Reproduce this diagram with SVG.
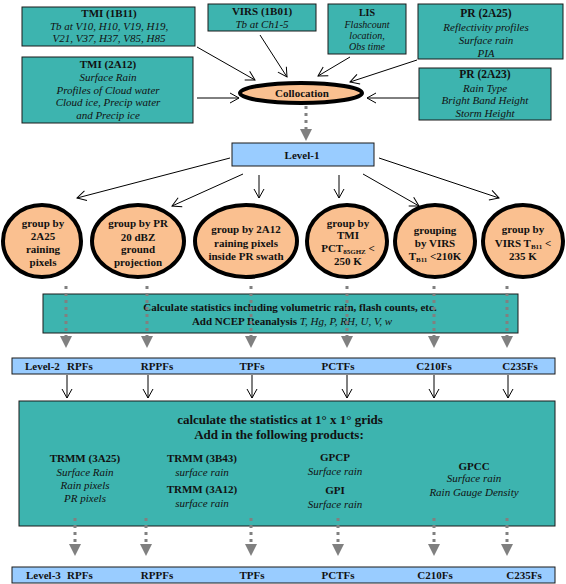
<svg xmlns="http://www.w3.org/2000/svg" width="566" height="584" viewBox="0 0 566 584" font-family="'Liberation Serif', 'DejaVu Serif', serif">
<defs>
<marker id="open" markerUnits="userSpaceOnUse" markerWidth="12" markerHeight="12" viewBox="0 0 12 12" refX="10" refY="6" orient="auto">
<path d="M1,1 L10,6 L1,11" fill="none" stroke="#000" stroke-width="1"/>
</marker>
<marker id="gray" markerUnits="userSpaceOnUse" markerWidth="12" markerHeight="13" viewBox="0 0 12 13" refX="0" refY="6.5" orient="auto">
<path d="M0,0.5 L12,6.5 L0,12.5 Z" fill="#808080"/>
</marker>
</defs>
<style>
text{font-family:'Liberation Serif','Times New Roman','DejaVu Serif',serif;font-size:11px;fill:#111;text-anchor:middle}
.b{font-weight:bold}
.i{font-style:italic}
.big{font-size:13px;font-weight:bold}
.teal{fill:#3DB4AF;stroke:#1a1a1a;stroke-width:1}
.blue{fill:#99CCFF;stroke:#1a1a1a;stroke-width:1}
.oval{fill:#FAC090;stroke:#000;stroke-width:4}
.ln{stroke:#000;stroke-width:1;fill:none;marker-end:url(#open)}
.dot{stroke:#808080;stroke-width:3;stroke-dasharray:3 4;fill:none;marker-end:url(#gray)}
.sub{font-size:7px}
.st{text-anchor:start}
</style>
<rect width="566" height="584" fill="#fff"/>

<g id="tmi1b11">
<rect class="teal" x="22" y="7" width="173" height="39"/>
<text class="b" x="109" y="17">TMI (1B11)</text>
<text class="i" x="109" y="30">Tb at V10, H10, V19, H19,</text>
<text class="i" x="109" y="42">V21, V37, H37, V85, H85</text>
</g>
<g id="tmi2a12">
<rect class="teal" x="22" y="57" width="171" height="66"/>
<text class="b" x="108" y="68">TMI (2A12)</text>
<text class="i" x="108" y="81">Surface Rain</text>
<text class="i" x="108" y="94">Profiles of Cloud water</text>
<text class="i" x="108" y="106">Cloud ice, Precip water</text>
<text class="i" x="108" y="119">and Precip ice</text>
</g>
<g id="virs1b01">
<rect class="teal" x="208" y="4" width="108" height="27"/>
<text class="b" x="262" y="15">VIRS (1B01)</text>
<text class="i" x="262" y="28">Tb at Ch1-5</text>
</g>
<g id="lis">
<rect class="teal" x="328" y="4" width="78" height="50"/>
<text class="b" x="367" y="16" style="font-size:10px">LIS</text>
<text class="i" x="367" y="27.5" style="font-size:10px">Flashcount</text>
<text class="i" x="367" y="38.5" style="font-size:10px">location,</text>
<text class="i" x="367" y="50" style="font-size:10px">Obs time</text>
</g>
<g id="pr2a25">
<rect class="teal" x="418" y="4" width="145" height="55"/>
<text class="b" x="486" y="17" style="font-size:11.5px">PR (2A25)</text>
<text class="i" x="486" y="31">Reflectivity profiles</text>
<text class="i" x="486" y="44">Surface rain</text>
<text class="i" x="486" y="57">PIA</text>
</g>
<g id="pr2a23">
<rect class="teal" x="419" y="68" width="132" height="52"/>
<text class="b" x="485" y="78" style="font-size:11.5px">PR (2A23)</text>
<text class="i" x="485" y="92">Rain Type</text>
<text class="i" x="485" y="104">Bright Band Height</text>
<text class="i" x="485" y="117">Storm Height</text>
</g>

<g id="collocation">
<ellipse class="oval" cx="301" cy="93" rx="61" ry="10"/>
<text class="b" x="302" y="97">Collocation</text>
</g>

<g id="level1">
<rect class="blue" x="232" y="143" width="142" height="23"/>
<text class="b" x="302" y="159">Level-1</text>
</g>

<g id="c1">
<ellipse class="oval" cx="42" cy="241" rx="39" ry="36"/>
<text class="b" x="43" y="227">group by</text>
<text class="b" x="43" y="240">2A25</text>
<text class="b" x="43" y="253">raining</text>
<text class="b" x="43" y="266">pixels</text>
</g>
<g id="c2">
<ellipse class="oval" cx="138" cy="241" rx="46" ry="36"/>
<text class="b" x="138" y="227">group by PR</text>
<text class="b" x="138" y="241">20 dBZ</text>
<text class="b" x="138" y="253">ground</text>
<text class="b" x="138" y="266">projection</text>
</g>
<g id="c3">
<ellipse class="oval" cx="246" cy="241" rx="51" ry="36"/>
<text class="b" x="246" y="233">group by 2A12</text>
<text class="b" x="246" y="247">raining pixels</text>
<text class="b" x="246" y="260">inside PR swath</text>
</g>
<g id="c4">
<ellipse class="oval" cx="347" cy="241" rx="40" ry="36"/>
<text class="b" x="348" y="227">group by</text>
<text class="b" x="348" y="239">TMI</text>
<text class="b" x="348" y="252">PCT<tspan class="sub" dy="2">85GHZ</tspan><tspan dy="-2"> &lt;</tspan></text>
<text class="b" x="348" y="265">250 K</text>
</g>
<g id="c5">
<ellipse class="oval" cx="435" cy="241" rx="40" ry="36"/>
<text class="b" x="435" y="234">grouping</text>
<text class="b" x="435" y="247">by VIRS</text>
<text class="b" x="435" y="260">T<tspan class="sub" dy="2">B11</tspan><tspan dy="-2"> &lt;210K</tspan></text>
</g>
<g id="c6">
<ellipse class="oval" cx="523" cy="241" rx="40" ry="36"/>
<text class="b" x="523" y="233">group by</text>
<text class="b" x="523" y="247">VIRS T<tspan class="sub" dy="2">B11</tspan><tspan dy="-2"> &lt;</tspan></text>
<text class="b" x="523" y="260">235 K</text>
</g>

<g id="stats">
<rect class="teal" x="43" y="294" width="475" height="39"/>
<text class="b" x="290" y="311">Calculate statistics including volumetric rain, flash counts, etc.</text>
<text class="b" x="292" y="325">Add NCEP Reanalysis <tspan class="i" style="font-weight:normal">T, Hg, P, RH, U, V, w</tspan></text>
</g>

<g id="level2">
<rect class="blue" x="12" y="358" width="543" height="16"/>
<text class="b st" x="25" y="370">Level-2</text>
<text class="b st" x="67" y="370">RPFs</text>
<text class="b" x="157" y="370">RPPFs</text>
<text class="b" x="252" y="370">TPFs</text>
<text class="b" x="338" y="370">PCTFs</text>
<text class="b" x="434" y="370">C210Fs</text>
<text class="b" x="520" y="370">C235Fs</text>
</g>

<g id="grids">
<rect class="teal" x="19" y="401" width="536" height="125"/>
<text class="big" x="280" y="424">calculate the statistics  at 1° x 1° grids</text>
<text class="big" x="279" y="439">Add in the following products:</text>
<text class="b" x="85" y="462">TRMM (3A25)</text>
<text class="i" x="85" y="476">Surface Rain</text>
<text class="i" x="85" y="489">Rain pixels</text>
<text class="i" x="85" y="502">PR pixels</text>
<text class="b" x="202" y="462">TRMM (3B43)</text>
<text class="i" x="202" y="476">surface rain</text>
<text class="b" x="202" y="493">TRMM (3A12)</text>
<text class="i" x="202" y="507">surface rain</text>
<text class="b" x="335" y="461">GPCP</text>
<text class="i" x="335" y="475">Surface rain</text>
<text class="b" x="335" y="494">GPI</text>
<text class="i" x="335" y="508">Surface rain</text>
<text class="b" x="474" y="470">GPCC</text>
<text class="i" x="474" y="482">Surface rain</text>
<text class="i" x="474" y="496">Rain Gauge Density</text>
</g>

<g id="level3">
<rect class="blue" x="12" y="567" width="543" height="16"/>
<text class="b st" x="26" y="579">Level-3</text>
<text class="b st" x="67" y="579">RPFs</text>
<text class="b" x="157" y="579">RPPFs</text>
<text class="b" x="252" y="579">TPFs</text>
<text class="b" x="338" y="579">PCTFs</text>
<text class="b" x="435" y="579">C210Fs</text>
<text class="b" x="524" y="579">C235Fs</text>
</g>

<g id="connectors">
<line class="ln" x1="197" y1="47" x2="255" y2="80"/>
<line class="ln" x1="260" y1="35" x2="287" y2="77"/>
<line class="ln" x1="197" y1="98" x2="239" y2="98"/>
<line class="ln" x1="350" y1="57" x2="318" y2="76"/>
<line class="ln" x1="417" y1="60" x2="350" y2="82"/>
<line class="ln" x1="419" y1="98" x2="367" y2="98"/>

<line class="dot" x1="306" y1="106" x2="306" y2="129"/>

<line class="ln" x1="230" y1="158" x2="77" y2="198"/>
<line class="ln" x1="243" y1="174" x2="172" y2="206"/>
<line class="ln" x1="259" y1="175" x2="259" y2="198"/>
<line class="ln" x1="339" y1="175" x2="339" y2="198"/>
<line class="ln" x1="363" y1="174" x2="419" y2="206"/>
<line class="ln" x1="379" y1="158" x2="499" y2="198"/>

<line class="dot" x1="66" y1="286" x2="66" y2="336"/>
<line class="dot" x1="147" y1="286" x2="147" y2="336"/>
<line class="dot" x1="251" y1="286" x2="251" y2="336"/>
<line class="dot" x1="347" y1="286" x2="347" y2="336"/>
<line class="dot" x1="434" y1="286" x2="434" y2="336"/>
<line class="dot" x1="507" y1="286" x2="507" y2="336"/>

<line class="ln" x1="67" y1="375" x2="67" y2="398"/>
<line class="ln" x1="148" y1="375" x2="148" y2="398"/>
<line class="ln" x1="252" y1="375" x2="252" y2="398"/>
<line class="ln" x1="347" y1="375" x2="347" y2="398"/>
<line class="ln" x1="434" y1="375" x2="434" y2="398"/>
<line class="ln" x1="508" y1="375" x2="508" y2="398"/>

<line class="dot" x1="75" y1="518" x2="75" y2="544"/>
<line class="dot" x1="146" y1="518" x2="146" y2="544"/>
<line class="dot" x1="251" y1="518" x2="251" y2="544"/>
<line class="dot" x1="338" y1="518" x2="338" y2="544"/>
<line class="dot" x1="434" y1="518" x2="434" y2="544"/>
<line class="dot" x1="507" y1="518" x2="507" y2="544"/>
</g>
</svg>
